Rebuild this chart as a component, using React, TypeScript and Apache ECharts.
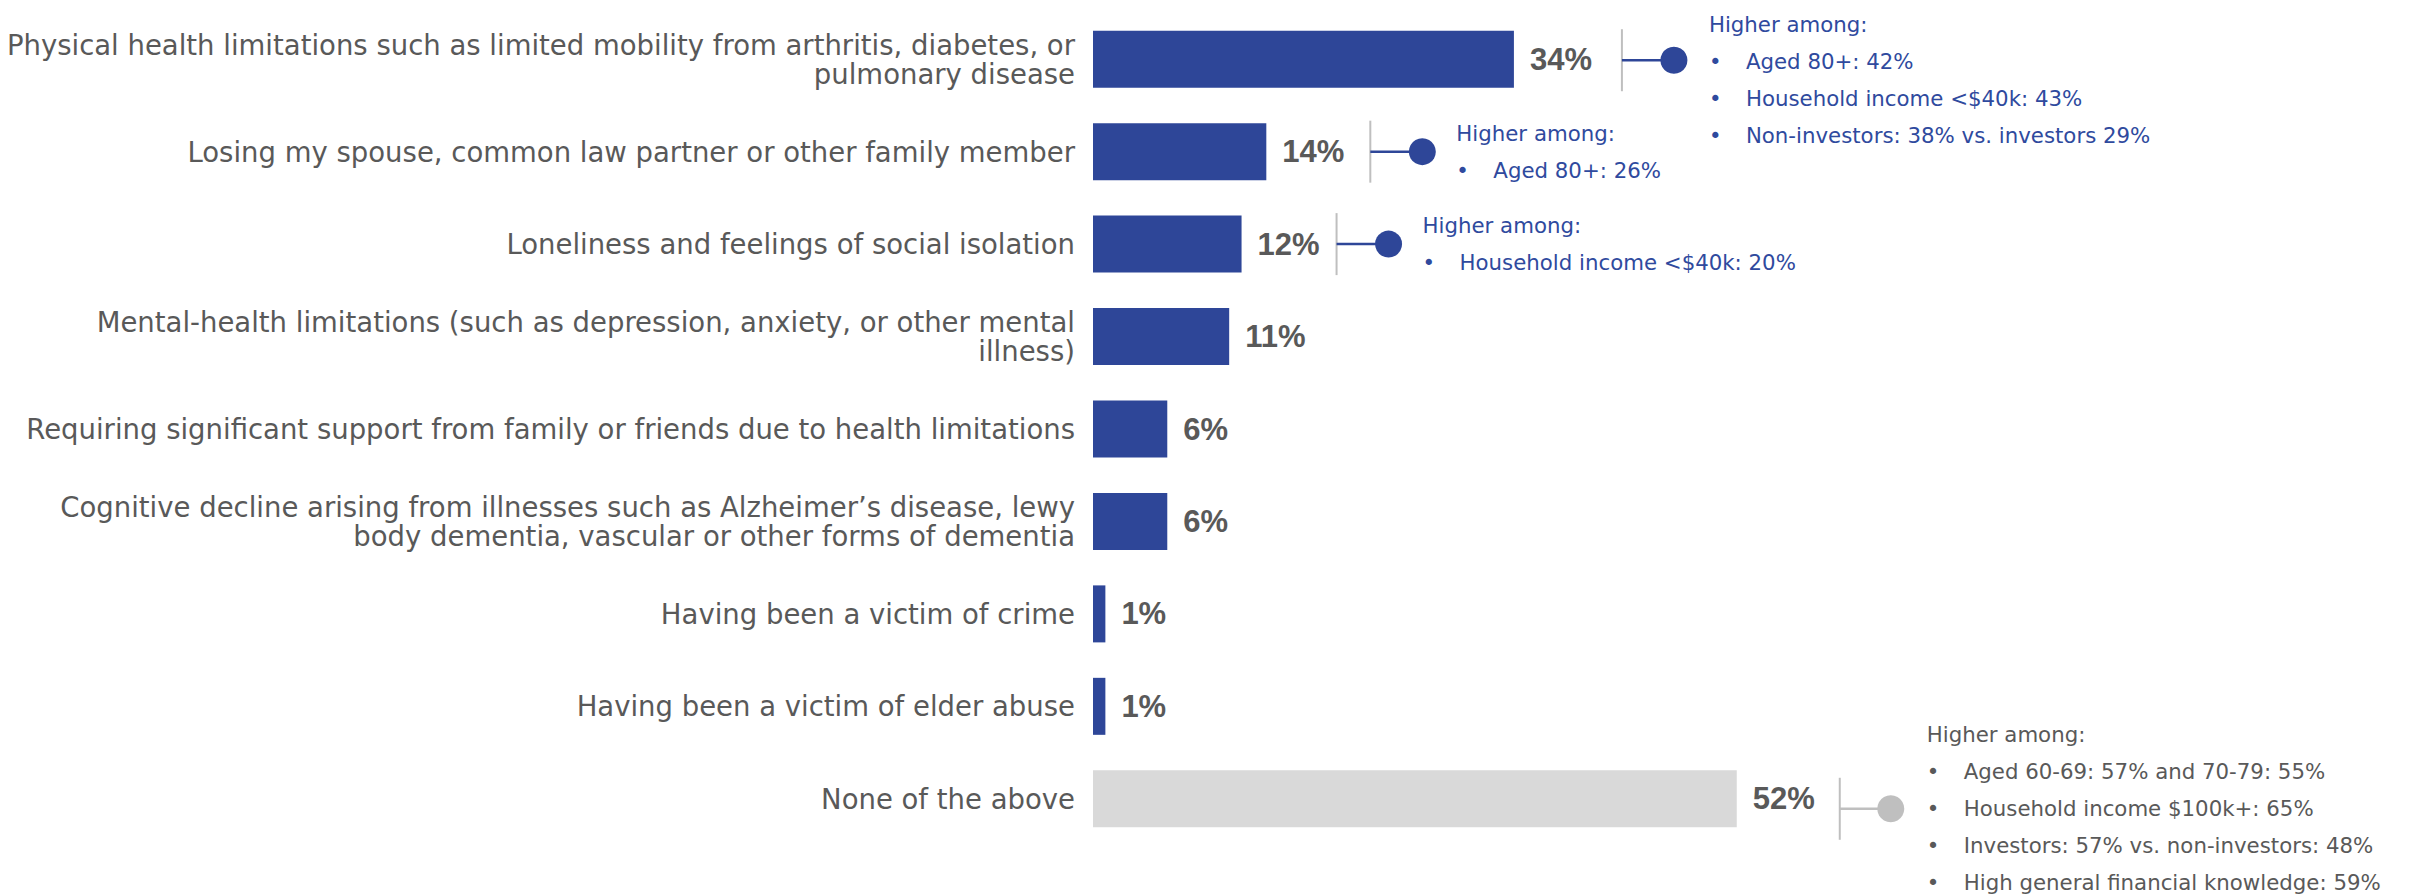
import React, { useEffect, useRef } from "react";
import * as echarts from "echarts";

// ---- data ----
const categories: string[] = [
  "Physical health limitations such as limited mobility from arthritis, diabetes, or\npulmonary disease",
  "Losing my spouse, common law partner or other family member",
  "Loneliness and feelings of social isolation",
  "Mental-health limitations (such as depression, anxiety, or other mental\nillness)",
  "Requiring significant support from family or friends due to health limitations",
  "Cognitive decline arising from illnesses such as Alzheimer\u2019s disease, lewy\nbody dementia, vascular or other forms of dementia",
  "Having been a victim of crime",
  "Having been a victim of elder abuse",
  "None of the above",
];
const values: number[] = [34, 14, 12, 11, 6, 6, 1, 1, 52];

const noteTitle = "Higher among:";
const noteRows: number[] = [0, 1, 2, 8];
const notePhysical: string[] = [
  "Aged 80+: 42%",
  "Household income <$40k: 43%",
  "Non-investors: 38% vs. investors 29%",
];
const noteLosing: string[] = ["Aged 80+: 26%"];
const noteLoneliness: string[] = ["Household income <$40k: 20%"];
const noteNone: string[] = [
  "Aged 60-69: 57% and 70-79: 55%",
  "Household income $100k+: 65%",
  "Investors: 57% vs. non-investors: 48%",
  "High general financial knowledge: 59%",
];
const notes: string[][] = [notePhysical, noteLosing, noteLoneliness, noteNone];

// ---- layout / style (kept out of the data) ----
const NOTE_GAP = [108, 104, 95, 103];
const CIRCLE_GAP = [52, 52, 52, 51];
const TEXT_GAP = [35, 34, 34, 36];
const NOTE_DY = [1, 0, 0, 10];
const PITCH = 37;
const BLUE = "#2E4698";
const TEXT_BLUE = "#2F4A9E";
const GRAY_BAR = "#D9D9D9";
const GRAY_MARK = "#BFBFBF";
const GRAY_TEXT = "#595959";
const FONT = "'DejaVu Sans', sans-serif";

export default function App() {
  const ref = useRef<HTMLDivElement>(null);
  useEffect(() => {
    if (!ref.current) return;
    const chart = echarts.init(ref.current, null, { renderer: "svg" });
    const last = categories.length - 1;
    const option: any = {
      animation: false,
      backgroundColor: "#ffffff",
      grid: { left: 1093, top: 13, width: 1238, height: 832, containLabel: false },
      xAxis: { type: "value", min: 0, max: 100, show: false },
      yAxis: {
        type: "category",
        data: categories,
        inverse: true,
        axisLine: { show: false },
        axisTick: { show: false },
        splitLine: { show: false },
        axisLabel: {
          interval: 0,
          margin: 18,
          color: GRAY_TEXT,
          fontFamily: FONT,
          fontSize: 27.5,
          lineHeight: 29,
          align: "right",
        },
      },
      series: [
        {
          type: "bar",
          barWidth: 57,
          data: values.map((v, i) => ({
            value: v,
            itemStyle: { color: i === last ? GRAY_BAR : BLUE },
          })),
          label: {
            show: true,
            position: "right",
            distance: 16,
            formatter: "{c}%",
            color: GRAY_TEXT,
            fontFamily: "'Liberation Sans', Arial, sans-serif",
            fontWeight: "bold",
            fontSize: 31,
          },
        },
        {
          type: "custom",
          clip: false,
          silent: true,
          encode: { x: 0, y: 1 },
          data: noteRows.map((r, i) => [values[r], r, i]),
          renderItem: (params: any, api: any) => {
            const idx = api.value(2) as number;
            const cat = api.value(1) as number;
            const pt = api.coord([api.value(0), cat]);
            const cy = pt[1] + NOTE_DY[idx];
            const vx = pt[0] + NOTE_GAP[idx];
            const cx = vx + CIRCLE_GAP[idx];
            const tx = cx + TEXT_GAP[idx];
            const isGray = cat === last;
            const accent = isGray ? GRAY_MARK : BLUE;
            const tcol = isGray ? GRAY_TEXT : TEXT_BLUE;
            const items = notes[idx];
            const n = items.length + 1;
            const y0 = Math.max(cy - ((n - 1) / 2) * PITCH, 24);
            const textStyle = (text: string, x: number, y: number) => ({
              type: "text",
              style: {
                text,
                x,
                y,
                fill: tcol,
                fontFamily: FONT,
                fontSize: 21.3,
                verticalAlign: "middle",
                align: "left",
              },
            });
            const children: any[] = [
              {
                type: "line",
                shape: { x1: vx, y1: cy - 31, x2: vx, y2: cy + 31 },
                style: { stroke: GRAY_MARK, lineWidth: 2 },
              },
              {
                type: "line",
                shape: { x1: vx, y1: cy, x2: cx, y2: cy },
                style: { stroke: accent, lineWidth: 2.5 },
              },
              {
                type: "circle",
                shape: { cx, cy, r: 13.5 },
                style: { fill: accent },
              },
              textStyle(noteTitle, tx, y0),
            ];
            items.forEach((t, i) => {
              const y = y0 + (i + 1) * PITCH;
              children.push(textStyle("\u2022", tx, y));
              children.push(textStyle(t, tx + 37, y));
            });
            return { type: "group", children };
          },
        },
      ],
    };
    chart.setOption(option);
    return () => chart.dispose();
  }, []);
  return (
    <div
      ref={ref}
      style={{ position: "absolute", left: 0, top: 0, width: 2417, height: 894 }}
    />
  );
}
